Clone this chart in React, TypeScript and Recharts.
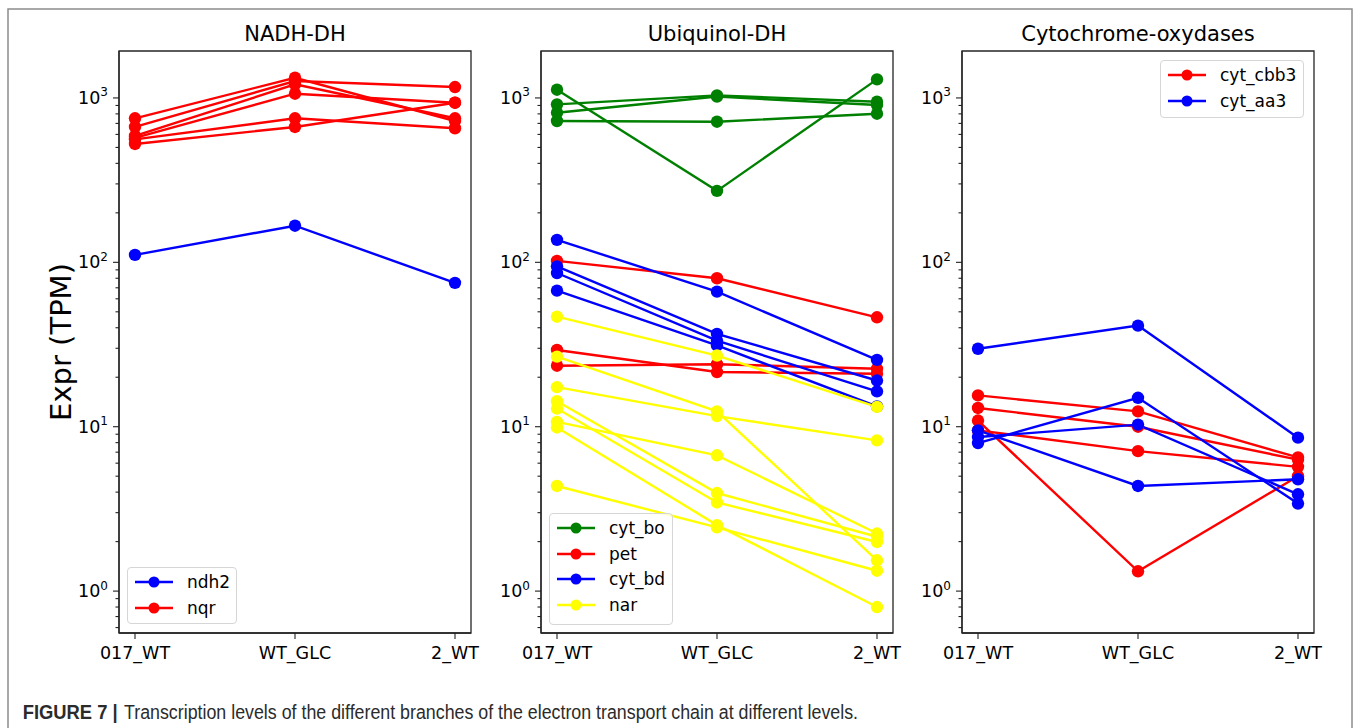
import React from 'react';
import { LineChart, Line, XAxis, YAxis, Legend, ReferenceArea } from 'recharts';

// ---------- data ----------
const categories = ['017_WT', 'WT_GLC', '2_WT'];
const categoryIndex = [0, 1, 2];
const majorTicks = [1, 10, 100, 1000];
const minorTicks = [
  0.6, 0.7, 0.8, 0.9,
  2, 3, 4, 5, 6, 7, 8, 9,
  20, 30, 40, 50, 60, 70, 80, 90,
  200, 300, 400, 500, 600, 700, 800, 900,
];
const yDomain = [0.556, 1930];
const xDomain = [-0.1, 2.1];
const panelTitles = ['NADH-DH', 'Ubiquinol-DH', 'Cytochrome-oxydases'];

// NADH-DH
const ndh2 = [[111, 167, 75]];
const nqr = [
  [752, 1327, 724],
  [666, 1267, 1165],
  [587, 1210, 752],
  [571, 1061, 935],
  [560, 752, 654],
  [525, 666, 935],
];

// Ubiquinol-DH
const cytBo = [
  [1122, 272, 1297],
  [914, 1037, 948],
  [813, 1020, 905],
  [724, 717, 802],
];
const pet = [
  [102, 80, 46.3],
  [29.3, 21.5, 21],
  [23.5, 24, 22.5],
];
const cytBd = [
  [137, 66.3, 25.5],
  [94.5, 36.7, 19.1],
  [86.1, 33.4, 16.4],
  [67.3, 31.2, 13.3],
];
const nar = [
  [46.7, 27.1, 13.2],
  [26.7, 12.4, 1.54],
  [17.4, 11.6, 8.26],
  [14.3, 3.95, 2.14],
  [12.9, 3.46, 1.99],
  [10.7, 6.7, 2.24],
  [9.9, 2.52, 0.8],
  [4.36, 2.44, 1.33],
];

// Cytochrome-oxydases
const cytCbb3 = [
  [15.5, 12.4, 6.5],
  [13.0, 10.0, 6.3],
  [10.9, 1.32, 5.0],
  [9.5, 7.1, 5.7],
];
const cytAa3 = [
  [29.8, 41.2, 8.58],
  [7.95, 15.0, 3.41],
  [8.65, 10.3, 3.88],
  [9.5, 4.36, 4.79],
];

type Group = { name: string; color: string; values: number[][] };

const panel1Groups: Group[] = [
  { name: 'ndh2', color: '#0000ff', values: ndh2 },
  { name: 'nqr', color: '#ff0000', values: nqr },
];
const panel2Groups: Group[] = [
  { name: 'cyt_bo', color: '#008000', values: cytBo },
  { name: 'pet', color: '#ff0000', values: pet },
  { name: 'cyt_bd', color: '#0000ff', values: cytBd },
  { name: 'nar', color: '#ffff00', values: nar },
];
const panel3Groups: Group[] = [
  { name: 'cyt_cbb3', color: '#ff0000', values: cytCbb3 },
  { name: 'cyt_aa3', color: '#0000ff', values: cytAa3 },
];

// ---------- layout ----------
const FONT = '"DejaVu Sans", sans-serif';
const CAPTION_FONT = '"Liberation Sans Narrow", "Liberation Sans", Arial, sans-serif';
const PLOT_TOP = 51;
const PLOT_H = 582;
const PLOT_W = 352;
const YAXIS_W = 60;
const XAXIS_H = 45;
const MARGIN = { top: 5, right: 40, bottom: 0, left: 0 };
const SPINE = '#262626';

const panels = [
  { left: 119, groups: panel1Groups, legend: { x: 127, y: 567, w: 110, h: 57 } },
  { left: 541, groups: panel2Groups, legend: { x: 549, y: 513, w: 124, h: 112 } },
  { left: 962, groups: panel3Groups, legend: { x: 1160, y: 60, w: 144, h: 58 } },
];

function buildData(groups: Group[]) {
  return categoryIndex.map((i) => {
    const row: Record<string, number> = { x: i };
    groups.forEach((g, gi) => {
      g.values.forEach((s, si) => {
        row[`s${gi}_${si}`] = s[i];
      });
    });
    return row;
  });
}

const YTick = (props: any) => {
  const { x, y, payload } = props;
  const v = payload.value as number;
  const lg = Math.log10(v);
  const e = Math.round(lg);
  const major = Math.abs(lg - e) < 1e-6;
  return (
    <g>
      <line x1={x} x2={x - (major ? 6 : 3.5)} y1={y} y2={y} stroke="#222" strokeWidth={1.1} />
      {major && (
        <text x={x - 11} y={y + 6} textAnchor="end" fontFamily={FONT} fontSize={17.5} fill="#000">
          10
          <tspan fontSize={12} dy={-7.5}>
            {e}
          </tspan>
        </text>
      )}
    </g>
  );
};

const LegendBox = ({ groups, w, h }: { groups: Group[]; w: number; h: number }) => (
  <div
    style={{
      width: w,
      height: h,
      boxSizing: 'border-box',
      border: '1px solid #d6d6d6',
      borderRadius: 4,
      background: 'rgba(255,255,255,0.8)',
      paddingTop: 1,
    }}
  >
    {groups.map((g) => (
      <div key={g.name} style={{ height: 25.7, display: 'flex', alignItems: 'center', position: 'relative' }}>
        <svg width={40} height={20} style={{ marginLeft: 6, flex: 'none' }}>
          <line x1={1} x2={39} y1={10} y2={10} stroke={g.color} strokeWidth={2.3} />
          <circle cx={20} cy={10} r={5.5} fill={g.color} />
        </svg>
        <span style={{ fontFamily: FONT, fontSize: 17, color: '#000', marginLeft: 13, lineHeight: '20px' }}>
          {g.name}
        </span>
      </div>
    ))}
  </div>
);

const Panel = ({ left, groups, legend }: { left: number; groups: Group[]; legend: any }) => {
  const data = buildData(groups);
  const chartLeft = left - YAXIS_W;
  const chartTop = PLOT_TOP - MARGIN.top;
  return (
    <div style={{ position: 'absolute', left: chartLeft, top: chartTop }}>
      <LineChart
        width={YAXIS_W + PLOT_W + MARGIN.right}
        height={MARGIN.top + PLOT_H + XAXIS_H}
        data={data}
        margin={MARGIN}
      >
        <XAxis
          dataKey="x"
          type="number"
          domain={xDomain}
          allowDataOverflow
          ticks={categoryIndex}
          interval={0}
          tickFormatter={(i: number) => categories[i]}
          height={XAXIS_H}
          tickSize={6}
          tickMargin={8}
          tick={{ fill: '#000', fontSize: 17.5, fontFamily: FONT }}
          tickLine={{ stroke: '#222', strokeWidth: 1.1 }}
          axisLine={{ stroke: SPINE, strokeWidth: 1.3 }}
        />
        <YAxis
          type="number"
          scale="log"
          domain={yDomain}
          allowDataOverflow
          ticks={[...minorTicks, ...majorTicks]}
          interval={0}
          width={YAXIS_W}
          tickSize={0}
          tickMargin={0}
          tickLine={false}
          tick={<YTick />}
          axisLine={{ stroke: SPINE, strokeWidth: 1.3 }}
        />
        <ReferenceArea
          x1={xDomain[0]}
          x2={xDomain[1]}
          y1={yDomain[0]}
          y2={yDomain[1]}
          fill="none"
          fillOpacity={0}
          stroke={SPINE}
          strokeWidth={1.3}
          ifOverflow="visible"
        />
        {groups.map((g, gi) =>
          g.values.map((_, si) => (
            <Line
              key={`s${gi}_${si}`}
              dataKey={`s${gi}_${si}`}
              type="linear"
              stroke={g.color}
              strokeWidth={2.4}
              dot={{ r: 6.2, fill: g.color, stroke: g.color, strokeWidth: 0 }}
              activeDot={false}
              isAnimationActive={false}
              legendType="none"
            />
          ))
        )}
        <Legend
          layout="horizontal"
          verticalAlign="middle"
          align="center"
          wrapperStyle={{
            left: legend.x - chartLeft,
            top: legend.y - chartTop,
            width: legend.w,
            height: legend.h,
          }}
          content={() => <LegendBox groups={groups} w={legend.w} h={legend.h} />}
        />
      </LineChart>
    </div>
  );
};

export default function App() {
  return (
    <div style={{ position: 'absolute', left: 0, top: 0, width: 1357, height: 728, background: '#fff', overflow: 'hidden' }}>
      <svg width={1357} height={728} style={{ position: 'absolute', left: 0, top: 0 }}>
        <rect x={8} y={9} width={1344} height={740} fill="none" stroke="#8c8c8c" strokeWidth={1.5} />
        {panels.map((p, i) => (
          <text
            key={i}
            x={p.left + PLOT_W / 2}
            y={41}
            textAnchor="middle"
            fontFamily={FONT}
            fontSize={21}
            fill="#000"
          >
            {panelTitles[i]}
          </text>
        ))}
        <text
          x={0}
          y={0}
          transform={`translate(71, ${PLOT_TOP + PLOT_H / 2}) rotate(-90)`}
          textAnchor="middle"
          fontFamily={FONT}
          fontSize={29}
          fill="#000"
        >
          Expr (TPM)
        </text>
        <text
          x={22.7}
          y={719}
          fontFamily={CAPTION_FONT}
          fontWeight="bold"
          fontSize={20}
          fill="#2b2b2b"
          textLength={95}
          lengthAdjust="spacingAndGlyphs"
        >
          FIGURE 7 |
        </text>
        <text
          x={124}
          y={719}
          fontFamily={CAPTION_FONT}
          fontSize={20}
          fill="#2b2b2b"
          textLength={734}
          lengthAdjust="spacingAndGlyphs"
        >
          Transcription levels of the different branches of the electron transport chain at different levels.
        </text>
      </svg>
      {panels.map((p, i) => (
        <Panel key={i} left={p.left} groups={p.groups} legend={p.legend} />
      ))}
    </div>
  );
}
